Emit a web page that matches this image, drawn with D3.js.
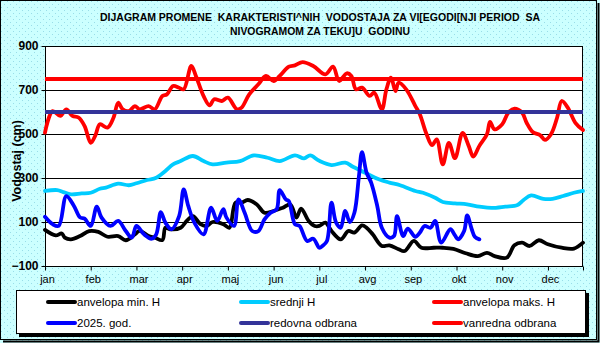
<!DOCTYPE html>
<html><head><meta charset="utf-8">
<script src="https://cdn.jsdelivr.net/npm/d3@7/dist/d3.min.js"></script>
<style>body{margin:0;background:#fff}svg{display:block}text{font-family:"Liberation Sans",Arial,sans-serif}</style>
</head><body>
<script>
const titleLines = ["DIJAGRAM PROMENE  KARAKTERISTI^NIH  VODOSTAJA ZA VI[EGODI[NJI PERIOD  SA", "NIVOGRAMOM ZA TEKU]U  GODINU"];
const yAxisTitle = "Vodostaj (cm)";
const monthLabels = ["jan","feb","mar","apr","maj","jun","jul","avg","sep","okt","nov","dec"];
const yTicks = [-100, 100, 300, 500, 700, 900];

const minDays = [0,7,11,13,17,23,29,35,41,48,53,59,62,68,72,77,79,82,89,93,97,102,106,110,117,121,125,129,133,139,144,150,156,161,165,168,173,177,180,184,188,194,199,203,208,211,215,221,226,232,236,242,247,255,261,268,276,284,290,295,303,308,313,318,324,330,339,347,353];
const minVals = [64,39,48,29,21,36,59,55,33,36,17,44,60,36,29,18,74,67,74,105,127,90,82,100,90,74,188,188,200,180,142,150,165,180,120,161,105,82,82,97,59,21,59,52,85,74,44,-9,-6,-24,-32,14,-17,-17,-17,-22,-42,-55,-40,-55,-62,-6,6,-9,17,-1,-17,-21,6];

const meanDays = [0,8,12,17,24,30,36,40,48,55,60,67,73,79,84,89,97,104,110,119,128,137,146,154,164,170,174,180,188,197,202,212,219,226,233,243,248,256,261,269,277,285,293,302,310,314,319,327,333,340,347,353];
const meanVals = [241,245,236,226,230,233,251,256,274,267,276,291,301,332,362,377,400,377,362,370,377,403,392,377,403,389,403,378,359,370,351,317,294,279,267,241,233,210,191,185,180,170,164,170,177,200,221,205,205,218,233,241];

const maxDays = [0,5,10,14,18,22,26,30,33,36,41,45,48,51,55,59,62,68,72,77,80,84,88,91,96,99,104,108,111,116,120,126,129,134,140,145,150,154,160,164,169,176,184,189,193,198,201,204,208,213,216,221,224,227,230,232,237,243,246,250,254,257,261,265,269,274,278,281,285,290,292,295,300,304,308,313,316,320,325,328,332,336,339,343,348,353];
const maxVals = [506,604,582,612,582,575,536,460,493,544,529,575,642,612,604,627,612,627,612,673,680,718,710,703,809,764,673,630,658,650,665,612,620,680,726,764,741,764,806,812,827,809,771,806,741,776,764,703,711,673,688,612,703,756,695,733,703,627,589,506,449,476,362,460,390,505,446,397,446,499,555,521,544,597,615,597,551,509,494,473,499,574,650,620,551,518];

const curDays = [0,5,9,14,19,23,26,30,34,37,43,48,53,57,60,65,70,73,76,79,83,88,91,94,98,104,109,113,117,119,124,127,131,136,140,144,148,152,154,158,160,164,167,172,176,180,182,185,188,191,194,197,200,203,206,208,211,214,218,221,226,229,231,235,238,243,246,249,253,256,260,266,269,271,275,277,280,282,285];
const curVals = [124,90,82,218,173,121,115,82,170,121,82,105,59,29,82,44,24,44,145,97,67,127,248,173,97,44,165,105,158,121,82,203,142,59,59,112,142,158,245,203,195,90,82,14,24,-17,-9,14,188,97,74,150,100,142,309,418,324,279,173,74,29,36,127,36,70,33,52,82,74,105,6,67,39,21,59,130,67,33,21];

const redovna = 600;
const vanredna = 750;
const legendItems = [
  {label:"anvelopa min. H", color:"#000000"},
  {label:"srednji H", color:"#00ccff"},
  {label:"anvelopa maks. H", color:"#ff0000"},
  {label:"2025. god.", color:"#0000ff"},
  {label:"redovna odbrana", color:"#333399"},
  {label:"vanredna odbrana", color:"#ff0000"}
];

const W = 600, H = 343;
const L = 45, R = 583, T = 46, B = 266;
const svg = d3.select("body").append("svg").attr("width", W).attr("height", H);

const defs = svg.append("defs");
const pat = defs.append("pattern").attr("id","bgp").attr("width",6).attr("height",6).attr("patternUnits","userSpaceOnUse");
pat.append("rect").attr("width",6).attr("height",6).attr("fill","#ccffff");
pat.append("rect").attr("x",1).attr("y",1).attr("width",1).attr("height",1).attr("fill","#99dde8");
pat.append("rect").attr("x",4).attr("y",4).attr("width",1).attr("height",1).attr("fill","#99dde8");

svg.append("rect").attr("x",0).attr("y",0).attr("width",W).attr("height",H).attr("fill","url(#bgp)");
// outer frame with shadow
svg.append("rect").attr("x",0.5).attr("y",0.5).attr("width",596).attr("height",339).attr("fill","none").attr("stroke","#000").attr("stroke-width",1);
svg.append("path").attr("d","M598.5,3 V341.5 H3").attr("fill","none").attr("stroke","#000").attr("stroke-width",2);

const x = d3.scaleLinear().domain([0, 353]).range([L, R]);
const y = d3.scaleLinear().domain([-100, 900]).range([B, T]);

svg.append("rect").attr("x",L).attr("y",T).attr("width",R-L).attr("height",B-T).attr("fill","#fff");

// gridlines
svg.append("g").selectAll("line").data([100,300,500,700]).join("line")
  .attr("x1",L).attr("x2",R).attr("y1",d=>Math.round(y(d))+0.5).attr("y2",d=>Math.round(y(d))+0.5)
  .attr("stroke","#000").attr("stroke-width",1);

// plot border
svg.append("rect").attr("x",L+0.5).attr("y",T+0.5).attr("width",R-L-1).attr("height",B-T).attr("fill","none").attr("stroke","#000").attr("stroke-width",1);

// axes
const yAxis = d3.axisLeft(y).tickValues(yTicks).tickSize(4).tickSizeOuter(0).tickFormat(d3.format("d"));
const gy = svg.append("g").attr("transform",`translate(${L+0.5},0)`).call(yAxis);
gy.selectAll("text").attr("font-size",12).attr("font-weight","bold").attr("fill","#000").attr("x",-7);
gy.select(".domain").remove();
gy.selectAll("line").attr("stroke","#000");

const monthTicks = monthLabels.map((m,i)=>i*30);
const xAxis = d3.axisBottom(x).tickValues(monthTicks.concat([353])).tickSize(4).tickSizeOuter(0)
  .tickFormat((d,i)=> i<12 ? monthLabels[i] : "");
const gx = svg.append("g").attr("transform",`translate(0,${B+0.5})`).call(xAxis);
gx.select(".domain").remove();
gx.selectAll("text").attr("font-size",11).attr("fill","#000").attr("dx",2).attr("dy","0.9em");
gx.selectAll("line").attr("stroke","#000");

// y axis title
svg.append("text").attr("transform",`translate(21,${161}) rotate(-90)`).attr("text-anchor","middle")
  .attr("font-size",12.5).attr("font-weight","bold").text(yAxisTitle);

// title
svg.selectAll(".title").data(titleLines).join("text").attr("class","title")
  .attr("x",320).attr("y",(d,i)=>21+i*13.5).attr("text-anchor","middle")
  .attr("font-size",11).attr("font-weight","bold").style("white-space","pre")
  .attr("textLength",(d,i)=> i===0 ? 440 : 180).attr("lengthAdjust","spacingAndGlyphs")
  .text(d=>d);

// series
const line = d3.line().x(d=>x(d[0])).y(d=>y(d[1])).curve(d3.curveCatmullRom.alpha(0.5));
const plot = svg.append("g");
const series = [
  {days:minDays, vals:minVals, color:"#000000"},
  {days:meanDays, vals:meanVals, color:"#00ccff"},
  {days:maxDays, vals:maxVals, color:"#ff0000"},
  {days:curDays, vals:curVals, color:"#0000ff"}
];
series.forEach(s=>{
  plot.append("path").datum(s.days.map((d,i)=>[d,s.vals[i]])).attr("d",line)
    .attr("fill","none").attr("stroke",s.color).attr("stroke-width",3.8).attr("stroke-linejoin","round").attr("stroke-linecap","round");
});
[[redovna,"#333399"],[vanredna,"#ff0000"]].forEach(([v,c])=>{
  plot.append("line").attr("x1",x(0)).attr("x2",x(353)).attr("y1",y(v)).attr("y2",y(v))
    .attr("stroke",c).attr("stroke-width",4);
});

// legend
const lg = svg.append("g");
lg.append("rect").attr("x",19).attr("y",293).attr("width",570).attr("height",44).attr("fill","#000");
lg.append("rect").attr("x",16.5).attr("y",290.5).attr("width",569).attr("height",43).attr("fill","#fff").attr("stroke","#000").attr("stroke-width",1);
const colX = [48, 241, 434];
const rowY = [302, 323];
legendItems.forEach((it,i)=>{
  const cx = colX[i%3], cy = rowY[Math.floor(i/3)];
  lg.append("line").attr("x1",cx).attr("x2",cx+27).attr("y1",cy).attr("y2",cy).attr("stroke",it.color).attr("stroke-width",4).attr("stroke-linecap","round");
  lg.append("text").attr("x",cx+29).attr("y",cy+4).attr("font-size",11.5).attr("fill","#000").text(it.label);
});
</script>
</body></html>
